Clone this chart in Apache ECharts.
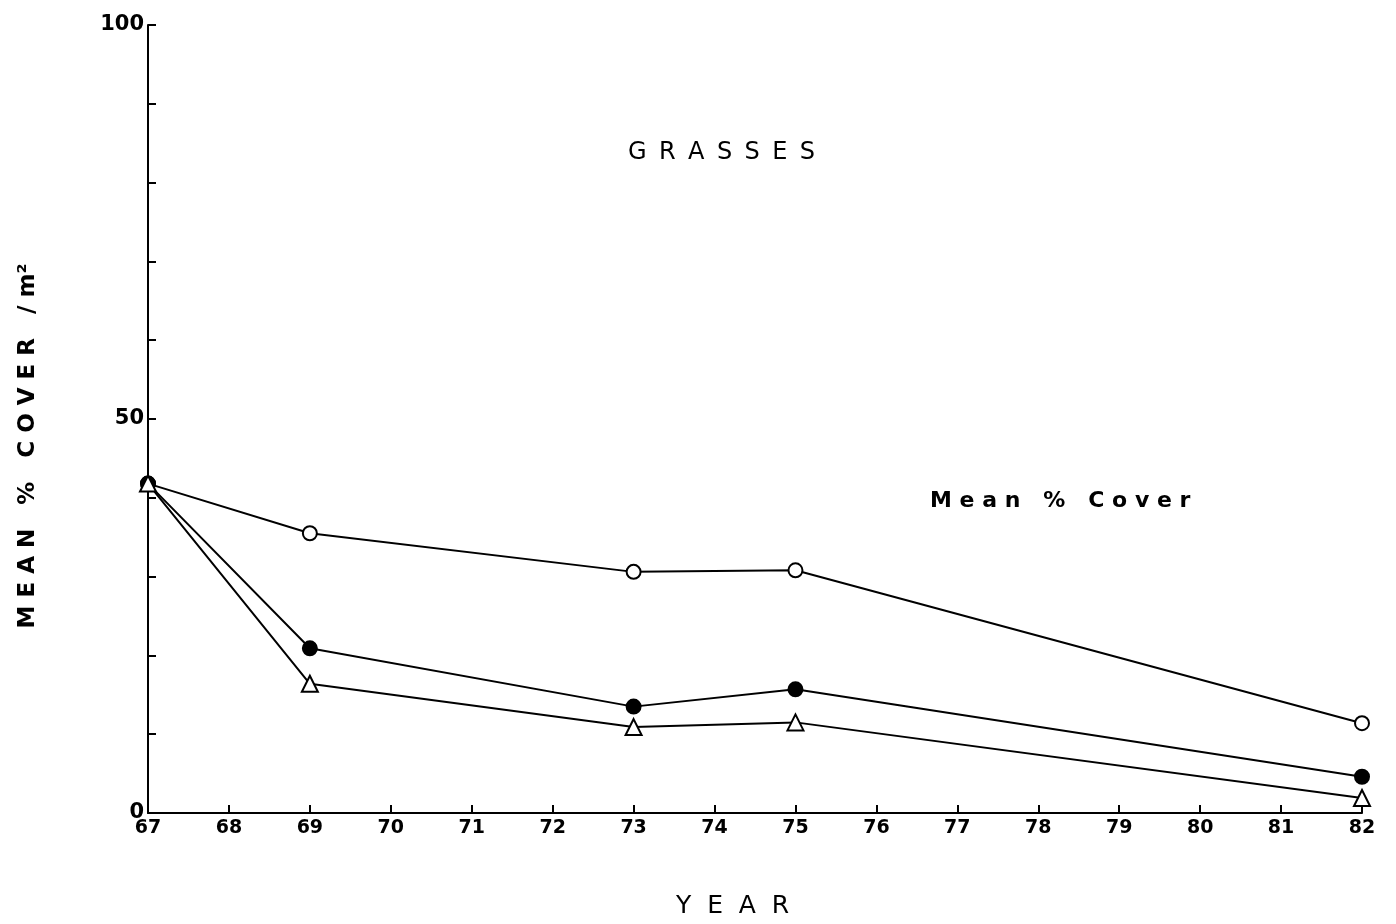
<!DOCTYPE html>
<html>
<head>
<meta charset="utf-8">
<script src="https://cdn.jsdelivr.net/npm/echarts@6/dist/echarts.min.js"></script>
<style>html,body{margin:0;padding:0;background:#fff}#c{width:1396px;height:924px}</style>
</head>
<body>
<div id="c"></div>
<script>
const years = [67, 69, 73, 75, 82];
const openCircle = [41.8, 35.5, 30.6, 30.8, 11.4];
const filledCircle = [41.8, 20.9, 13.5, 15.7, 4.6];
const triangle = [41.8, 16.4, 10.9, 11.5, 1.9];
const yLabelValues = [0, 50, 100];

const FONT = 'DejaVu Sans';
const chart = echarts.init(document.getElementById('c'));
function pts(v){ return years.map((y,i)=>[y, v[i]]); }
function series(v, symbol, fill){
  return {
    type: 'line', data: pts(v), symbol: symbol, symbolSize: symbol==='triangle'?16:14,
    lineStyle: {color:'#000', width:2},
    itemStyle: {color: fill, borderColor:'#000', borderWidth:2},
    showAllSymbol: true, animation:false, z: 3
  };
}
chart.setOption({
  animation: false,
  backgroundColor: '#fff',
  grid: {left: 148, right: 34, top: 25, bottom: 111},
  xAxis: {
    type: 'value', min: 67, max: 82, interval: 1,
    axisLine: {lineStyle: {color:'#000', width: 2}},
    axisTick: {inside: true, length: 8, lineStyle:{color:'#000', width:2}},
    axisLabel: {color:'#000', fontFamily: FONT, fontSize: 19, fontWeight:'bold', margin: 6},
    splitLine: {show:false}
  },
  yAxis: {
    type: 'value', min: 0, max: 100, interval: 10,
    axisLine: {show:true, lineStyle: {color:'#000', width: 2}},
    axisTick: {show:true, inside: true, length: 8, lineStyle:{color:'#000', width:2}},
    axisLabel: {color:'#000', fontFamily: FONT, fontSize: 21, fontWeight:'bold', margin: 4,
      formatter: v => yLabelValues.includes(v) ? String(v) : ''},
    splitLine: {show:false}
  },
  graphic: [
    {type:'text', left: 628, top: 141, style:{text:'G \u2009R \u2009A \u2009S \u2009S \u2009E \u2009S', fontFamily: FONT, fontSize: 24, fill:'#000'}},
    {type:'text', left: 930, top: 490, style:{text:'M e a n   %   C o v e r', fontFamily: FONT, fontSize: 22, fontWeight:'bold', fill:'#000'}},
    {type:'text', left: 676, top: 894, style:{text:'Y  E  A  R', fontFamily: FONT, fontSize: 25, fill:'#000'}},
    {type:'text', x: 28, y: 446, rotation: Math.PI/2,
      style:{text:'M E A N   %   C O V E R   / m²', fontFamily: FONT, fontSize: 23, fontWeight:'bold', fill:'#000', align:'center', verticalAlign:'middle'}}
  ],
  series: [
    series(openCircle, 'circle', '#fff'),
    series(filledCircle, 'circle', '#000'),
    series(triangle, 'triangle', '#fff')
  ]
});
</script>
</body>
</html>
